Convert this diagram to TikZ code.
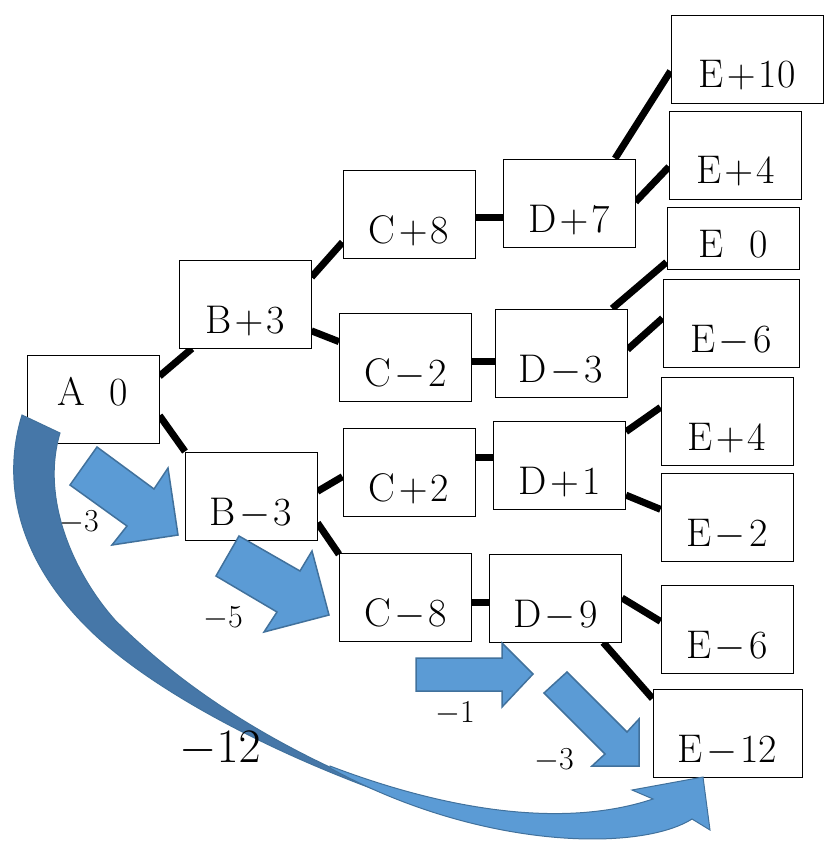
\RequirePackage{fix-cm}
\documentclass[tikz,border=0pt]{standalone}
\usetikzlibrary{calc}
\definecolor{arrfill}{HTML}{5B9BD5}
\definecolor{arredge}{HTML}{41719C}
\definecolor{arrdark}{HTML}{4677A8}
\pgfdeclarelayer{bg}
\pgfsetlayers{bg,main}
\newcommand{\opp}{\hspace{0.08em}$+$\hspace{0.08em}}
\newcommand{\opm}{\hspace{0.08em}$-$\hspace{0.08em}}
\begin{document}
\begin{tikzpicture}[x=1pt,y=-1pt,
  vbox/.style={draw=black, line width=1pt, fill=white, minimum width=132pt, minimum height=88pt,
    inner sep=0pt, text height=#1, text depth=0pt, font=\fontsize{40}{48}\selectfont},
  vbox/.default=58pt,
  conn/.style={line width=7pt, black},
  blk/.style={fill=arrfill, draw=arredge, line width=1.5pt, line join=miter},
  lab/.style={anchor=base, inner sep=0pt, font=\fontsize{32}{38}\selectfont}]
\useasboundingbox (0,0) rectangle (823,841);

% boxes
\node[vbox=12pt] (A) at (93,399) {A\hspace{0.6em}0\hspace{0.5em}};
\node[vbox] (B1) at (245,304) {B\opp 3};
\node[vbox] (B2) at (251,496) {B\opm 3};
\node[vbox] (C1) at (409,214) {C\opp 8};
\node[vbox] (C2) at (405.5,357) {C\opm 2};
\node[vbox] (C3) at (409,472) {C\opp 2};
\node[vbox] (C4) at (405.5,597.5) {C\opm 8};
\node[vbox] (D1) at (569,203) {D\opp 7};
\node[vbox] (D2) at (561,353) {D\opm 3};
\node[vbox] (D3) at (559.5,465.5) {D\opp 1};
\node[vbox] (D4) at (555.5,598) {D\opm 9};
\node[vbox, minimum width=152pt, text height=56pt] (E1) at (747,59) {E\opp 10};
\node[vbox, text height=56pt] (E2) at (735.5,155) {E\opp 4};
\node[vbox, minimum height=62pt, text height=38pt] (E3) at (733,238) {E\hspace{0.65em}0\hspace{0.5em}};
\node[vbox, minimum width=136pt] (E4) at (731,323) {E\opm 6};
\node[vbox, text height=57pt] (E5) at (727,421.5) {E\opp 4};
\node[vbox] (E6) at (727,517.5) {E\opm 2};
\node[vbox, text height=57pt] (E7) at (727,629.5) {E\opm 6};
\node[vbox, minimum width=149pt] (E8) at (727.5,733.5) {E\opm 12};

% connectors
\begin{pgfonlayer}{bg}
\draw[conn] (A.19) -- (B1.220);
\draw[conn] (A.346) -- (B2.146);
\draw[conn] (B1.22) -- (C1.203);
\draw[conn] (B1.338) -- (C2.167);
\draw[conn] (B2.4) -- (C3.184);
\draw[conn] (B2.338) -- (C4.147);
\draw[conn] ([yshift=-3pt]C1.east) -- ([yshift=-3pt]C1.east -| D1.west);
\draw[conn] ([yshift=-4pt]C2.east) -- ([yshift=-4pt]C2.east -| D2.west);
\draw[conn] ([yshift=15pt]C3.east) -- ([yshift=15pt]C3.east -| D3.west);
\draw[conn] ([yshift=-4.5pt]C4.east) -- ([yshift=-4.5pt]C4.east -| D4.west);
\draw[conn] (D1.44) -- (E1.189);
\draw[conn] (D1.1) -- (E2.190);
\draw[conn] (D2.41) -- (E3.200);
\draw[conn] (D2.3) -- (E4.176);
\draw[conn] (D3.27) -- (E5.168);
\draw[conn] (D3.336) -- (E6.173);
\draw[conn] (D4.0) -- (E7.173);
\draw[conn] (D4.317) -- (E8.155);
\end{pgfonlayer}

% block arrows
\draw[blk] (70,485) -- (97,447) -- (154,489) -- (168,468) -- (178,535) -- (112,545) -- (127,526) -- cycle;
\draw[blk] (216,576) -- (239,536) -- (300,571) -- (312,551) -- (329,615) -- (264,632) -- (277,612) -- cycle;
\draw[blk] (416,658) -- (502,658) -- (502,643) -- (533,674) -- (502,707) -- (502,691) -- (416,691) -- cycle;
\draw[blk] (544,693) -- (567,672) -- (627,732) -- (639,719) -- (639,766) -- (592,766) -- (605,754) -- cycle;

% curved arrow: dark back part
\filldraw[fill=arrdark, draw=arredge, line width=1pt]
  (22,415) .. controls (2,480) and (15,560) .. (95,635)
  .. controls (165,700) and (300,768) .. (440,812)
  .. controls (320,770) and (205,710) .. (115,620)
  .. controls (75,575) and (40,500) .. (60,433) -- cycle;
% curved arrow: light front part with head
\filldraw[fill=arrfill, draw=arredge, line width=1pt]
  (330,766) .. controls (440,808) and (560,830) .. (653,799)
  -- (632,790) -- (703,777) -- (710,830) -- (692,819)
  .. controls (640,852) and (480,850) .. (330,768) -- cycle;

% labels
\node[lab] (l1) at (79,531) {$-3$};
\node[lab] (l2) at (223,627) {$-5$};
\node[lab] (l3) at (455,722) {$-1$};
\node[lab] (l4) at (554,769) {$-3$};
\node[lab, font=\fontsize{48}{56}\selectfont] (l5) at (220,762) {$-12$};
\end{tikzpicture}
\end{document}
